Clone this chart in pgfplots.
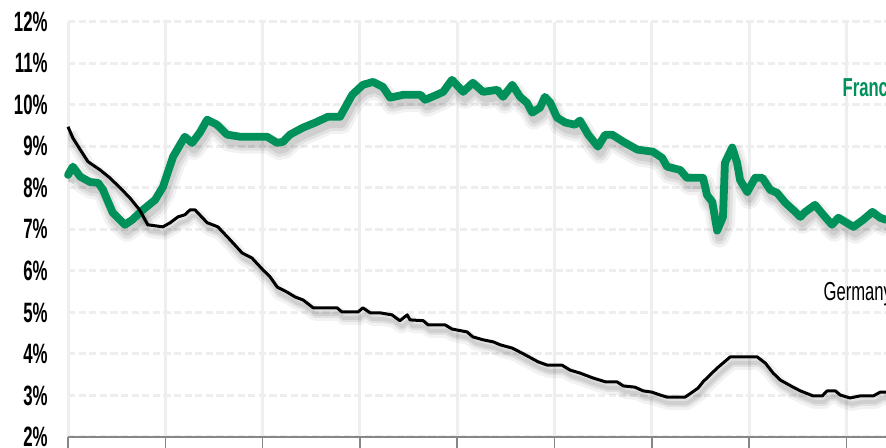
\documentclass[border=0pt]{standalone}
\usepackage{fontspec}
\setmainfont{Liberation Sans}
\newfontfamily\narrowfont{Liberation Sans}[FakeStretch=0.6]
\newfontfamily\labelfont{Liberation Sans}[FakeStretch=0.64]
\usepackage{pgfplots}
\pgfplotsset{compat=1.18}
\usepackage{pgfplotstable}
\definecolor{frgreen}{RGB}{0,145,90}
\definecolor{gridgray}{RGB}{238,238,238}
\definecolor{axgray}{RGB}{135,135,135}

\pgfplotstableread{
year rate
2007.00 8.31
2007.10 8.51
2007.25 8.27
2007.45 8.14
2007.62 8.12
2007.72 7.95
2007.92 7.40
2008.17 7.11
2008.32 7.23
2008.54 7.47
2008.79 7.71
2008.95 8.02
2009.16 8.75
2009.40 9.23
2009.55 9.08
2009.71 9.33
2009.86 9.64
2010.06 9.52
2010.27 9.28
2010.54 9.23
2011.09 9.23
2011.30 9.08
2011.42 9.11
2011.56 9.28
2011.83 9.45
2012.08 9.57
2012.34 9.71
2012.59 9.71
2012.84 10.24
2013.06 10.48
2013.27 10.55
2013.47 10.43
2013.62 10.17
2013.89 10.24
2014.24 10.24
2014.34 10.12
2014.58 10.24
2014.71 10.31
2014.89 10.60
2015.12 10.31
2015.32 10.53
2015.53 10.31
2015.82 10.36
2015.94 10.19
2016.13 10.48
2016.29 10.19
2016.43 10.05
2016.54 9.81
2016.70 9.93
2016.80 10.19
2016.91 10.05
2017.05 9.69
2017.22 9.57
2017.42 9.52
2017.52 9.62
2017.69 9.28
2017.89 8.99
2018.04 9.28
2018.18 9.28
2018.41 9.11
2018.70 8.92
2019.02 8.87
2019.21 8.72
2019.31 8.51
2019.58 8.43
2019.72 8.24
2019.95 8.24
2020.05 8.24
2020.13 7.83
2020.24 7.66
2020.34 6.97
2020.46 7.30
2020.50 8.60
2020.65 8.97
2020.75 8.60
2020.81 8.19
2020.96 7.90
2021.12 8.24
2021.27 8.24
2021.43 7.95
2021.57 7.88
2021.74 7.64
2021.90 7.47
2022.05 7.30
2022.15 7.42
2022.35 7.59
2022.52 7.35
2022.70 7.11
2022.83 7.28
2022.97 7.18
2023.14 7.06
2023.34 7.23
2023.53 7.42
2023.69 7.28
2023.81 7.23
}\france

\pgfplotstableread{
year rate
2007.00 9.47
2007.10 9.20
2007.25 8.92
2007.41 8.63
2007.66 8.43
2007.86 8.24
2008.07 8.00
2008.27 7.76
2008.47 7.47
2008.64 7.11
2008.95 7.06
2009.10 7.16
2009.26 7.30
2009.40 7.35
2009.51 7.47
2009.61 7.47
2009.86 7.16
2010.08 7.06
2010.33 6.75
2010.58 6.43
2010.78 6.31
2011.01 6.02
2011.15 5.86
2011.30 5.61
2011.50 5.49
2011.67 5.37
2011.83 5.30
2012.04 5.11
2012.53 5.11
2012.63 5.01
2012.96 5.01
2013.06 5.11
2013.21 4.99
2013.41 4.99
2013.66 4.94
2013.82 4.80
2013.97 4.94
2014.03 4.82
2014.30 4.80
2014.40 4.70
2014.75 4.70
2014.89 4.60
2015.20 4.53
2015.32 4.41
2015.53 4.34
2015.74 4.29
2015.88 4.22
2016.13 4.14
2016.33 4.02
2016.66 3.81
2016.85 3.73
2017.15 3.73
2017.32 3.61
2017.52 3.54
2017.79 3.42
2018.04 3.33
2018.28 3.33
2018.41 3.23
2018.65 3.20
2018.82 3.11
2019.00 3.08
2019.17 3.01
2019.31 2.96
2019.68 2.96
2019.83 3.08
2019.95 3.18
2020.05 3.33
2020.34 3.66
2020.61 3.93
2021.16 3.93
2021.33 3.78
2021.49 3.54
2021.64 3.37
2021.90 3.20
2022.05 3.11
2022.31 2.99
2022.50 2.99
2022.60 3.11
2022.77 3.11
2022.87 3.01
2023.07 2.94
2023.28 2.99
2023.55 2.99
2023.69 3.08
2023.81 3.08
}\germany

\begin{document}
\begin{tikzpicture}
\useasboundingbox (0,0) rectangle (443pt,224pt);
\clip (0,0) rectangle (443pt,224pt);
\begin{axis}[
  at={(34pt,5.5pt)}, anchor=south west,
  scale only axis, width=409pt, height=207.65pt,
  xmin=2007, xmax=2023.81, ymin=2, ymax=12,
  clip=false,
  axis x line*=bottom, axis y line*=left,
  x axis line style={draw=axgray, line width=1pt, -},
  y axis line style={draw=none},
  xtick={2007,2009,...,2023}, xticklabels={},
  xtick style={draw=axgray, line width=0.8pt},
  tick align=outside, major tick length=6pt,
  ytick={2,3,...,12},
  yticklabels={2\%,3\%,4\%,5\%,6\%,7\%,8\%,9\%,10\%,11\%,12\%},
  ytick style={draw=none},
  yticklabel style={anchor=east, inner sep=0pt, xshift=-4pt,
    font=\narrowfont\bfseries\fontsize{14}{14}\selectfont},
  xmajorgrids, ymajorgrids,
  x grid style={draw=gridgray, line width=1.5pt},
  y grid style={draw=gridgray, line width=1.5pt, dash pattern=on 3.6pt off 1.7pt},
]
% shadows
\begin{scope}
\clip (axis cs:2007,2) rectangle (axis cs:2023.81,12);
\addplot[draw=black, opacity=0.05, line width=10pt, line join=round, xshift=1pt, yshift=-3.5pt, forget plot] table {\france};
\addplot[draw=black, opacity=0.07, line width=7pt, line join=round, xshift=1pt, yshift=-3.5pt, forget plot] table {\france};
\addplot[draw=black, opacity=0.08, line width=4pt, line join=round, xshift=1pt, yshift=-3.5pt, forget plot] table {\france};
\addplot[draw=black, opacity=0.05, line width=7pt, line join=round, xshift=1pt, yshift=-3pt, forget plot] table {\germany};
\addplot[draw=black, opacity=0.07, line width=4pt, line join=round, xshift=1pt, yshift=-3pt, forget plot] table {\germany};
\addplot[draw=black, opacity=0.08, line width=2pt, line join=round, xshift=1pt, yshift=-3pt, forget plot] table {\germany};
\end{scope}
\addplot[draw=frgreen, line width=3.9pt, line join=round, line cap=round] table {\france};
\addplot[draw=black, line width=1.5pt, line join=round] table {\germany};
\node[anchor=west, inner sep=0pt, text=frgreen, font=\labelfont\bfseries\fontsize{13}{13}\selectfont] at (axis cs:2022.91,10.41) {France};
\node[anchor=west, inner sep=0pt, text=black, font=\labelfont\fontsize{13}{13}\selectfont] at (axis cs:2022.52,5.45) {Germany};
\end{axis}
\end{tikzpicture}
\end{document}
